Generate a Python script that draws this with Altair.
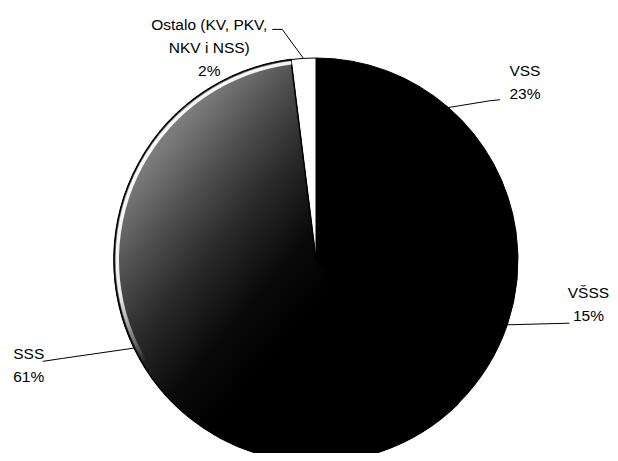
import altair as alt
import numpy as np
import pandas as pd

# ---- data ----
categories = ["VSS", "VŠSS", "SSS", "Ostalo (KV, PKV,\nNKV i NSS)"]
keys = ["VSS", "VŠSS", "SSS", "Ostalo"]
values = [23, 15, 61, 2]
pct_labels = ["23%", "15%", "61%", "2%"]

# ---- layout (pixels, chart coordinates) ----
W, H = 602, 445
CX, CY, R = 308, 252, 202
FS, LH = 15.5, 23
# label block centre: (angle shift from slice mid-angle [deg], radius [px])
label_polar = [(8.7, 274), (-9.5, 276), (5.7, 306), (-23.2, 237)]
# leader end relative to label centre, elbow relative to leader end
leader_end_off = [(-25, 17), (-19, 19), (14, -4), (63, -19)]
leader_elbow_off = [(-10, 1), (0, 0), (20, -3), (10, 0)]

total = float(sum(values))
cum = np.cumsum(values)
mid = (cum - np.array(values) / 2.0) / total * 360.0

df = pd.DataFrame({"key": keys, "value": values, "order": list(range(len(keys)))})

label_rows, line_rows = [], []
for i, k in enumerate(keys):
    a = np.radians(mid[i])
    sx, sy = CX + R * np.sin(a), CY - R * np.cos(a)
    shift, rad = label_polar[i]
    la = np.radians(mid[i] + shift)
    lx, ly = CX + rad * np.sin(la), CY - rad * np.cos(la)
    ex, ey = lx + leader_end_off[i][0], ly + leader_end_off[i][1]
    bx, by = ex + leader_elbow_off[i][0], ey + leader_elbow_off[i][1]
    text = categories[i] + "\n" + pct_labels[i]
    n_lines = text.count("\n") + 1
    label_rows.append({"key": k, "x": lx, "y": ly - (n_lines - 1) / 2.0 * LH, "text": text})
    for j, (px, py) in enumerate([(sx, sy), (bx, by), (ex, ey)]):
        line_rows.append({"key": k, "step": j, "x": px, "y": py})

labels_df = pd.DataFrame(label_rows)
lines_df = pd.DataFrame(line_rows)

xs = alt.Scale(domain=[0, W], range=[0, W], nice=False, zero=False)
ys = alt.Scale(domain=[0, H], range=[0, H], nice=False, zero=False)
theta_scale = alt.Scale(domain=[0, total], range=[0, 2 * np.pi])

stacked = alt.Chart(df).transform_stack(
    stack="value", groupby=[], as_=["v0", "v1"],
    sort=[alt.SortField("order", order="ascending")],
)

pie = stacked.mark_arc(outerRadius=R, stroke="#000000", strokeWidth=1).encode(
    theta=alt.Theta("v0:Q", scale=theta_scale),
    theta2=alt.Theta2("v1:Q"),
    color=alt.Color(
        "key:N",
        scale=alt.Scale(domain=keys, range=["#000000", "#000000", "#000000", "#ffffff"]),
        legend=None,
    ),
    x=alt.value(CX),
    y=alt.value(CY),
)

sss_gradient = alt.LinearGradient(
    gradient="linear",
    stops=[
        alt.GradientStop(color="#999999", offset=0),
        alt.GradientStop(color="#7a7a7a", offset=0.18),
        alt.GradientStop(color="#4f4f4f", offset=0.28),
        alt.GradientStop(color="#2a2a2a", offset=0.38),
        alt.GradientStop(color="#0a0a0a", offset=0.5),
        alt.GradientStop(color="#000000", offset=0.6),
        alt.GradientStop(color="#000000", offset=1),
    ],
    x1=0, y1=0, x2=1, y2=1,
)

ring_gradient = alt.LinearGradient(
    gradient="linear",
    stops=[
        alt.GradientStop(color="rgba(255,255,255,1)", offset=0),
        alt.GradientStop(color="rgba(255,255,255,0.9)", offset=0.3),
        alt.GradientStop(color="rgba(255,255,255,0)", offset=0.42),
        alt.GradientStop(color="rgba(255,255,255,0)", offset=1),
    ],
    x1=0, y1=0, x2=1, y2=1,
)

sss_only = stacked.transform_filter(alt.datum.key == "SSS")

sss = sss_only.mark_arc(
    outerRadius=R, color=sss_gradient, stroke="#000000", strokeWidth=1.5
).encode(
    theta=alt.Theta("v0:Q", scale=theta_scale),
    theta2=alt.Theta2("v1:Q"),
    x=alt.value(CX),
    y=alt.value(CY),
)

sss_ring = sss_only.mark_arc(
    innerRadius=R - 5, outerRadius=R - 1.5, color=ring_gradient
).encode(
    theta=alt.Theta("v0:Q", scale=theta_scale),
    theta2=alt.Theta2("v1:Q"),
    x=alt.value(CX),
    y=alt.value(CY),
)

leaders = alt.Chart(lines_df).mark_line(color="#000000", strokeWidth=1).encode(
    x=alt.X("x:Q", scale=xs, axis=None),
    y=alt.Y("y:Q", scale=ys, axis=None),
    detail="key:N",
    order="step:Q",
)

labels = alt.Chart(labels_df).mark_text(
    font="Liberation Sans", fontSize=FS, lineHeight=LH, lineBreak="\n",
    align="center", baseline="middle", color="#000000",
).encode(
    x=alt.X("x:Q", scale=xs, axis=None),
    y=alt.Y("y:Q", scale=ys, axis=None),
    text="text:N",
)

chart = alt.layer(pie, sss, sss_ring, leaders, labels).properties(
    width=W, height=H, padding=0, autosize="none", background="#ffffff"
).configure_view(stroke=None)

chart.save("out.html", embed_options={"renderer": "svg", "actions": False})
